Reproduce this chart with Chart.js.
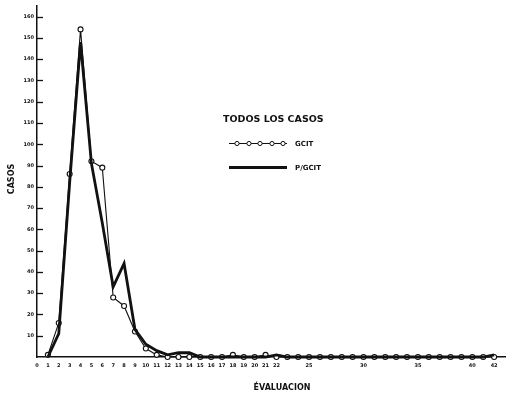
<!DOCTYPE html>
<html><head><meta charset="utf-8">
<script src="https://cdn.jsdelivr.net/npm/chart.js@4/dist/chart.umd.min.js"></script>
<style>html,body{margin:0;padding:0;background:#fff}#wrap{width:514px;height:395px}</style>
</head><body><div id="wrap"><canvas id="c" width="514" height="395"></canvas></div>
<script>
// ---- data ----
const evaluations = [1,2,3,4,5,6,7,8,9,10,11,12,13,14,15,16,17,18,19,20,21,22,23,24,25,26,27,28,29,30,31,32,33,34,35,36,37,38,39,40,41,42];
const gcit  = [1,16,86,154,92,89,28,24,12,4,1,0,0,0,0,0,0,1,0,0,1,0,0,0,0,0,0,0,0,0,0,0,0,0,0,0,0,0,0,0,0,0];
const pgcit = [0,11,82,148,91,63,33,44,13,6,3,1,2,2,0,0,0,0,0,0,0,1,0,0,0,0,0,0,0,0,0,0,0,0,0,0,0,0,0,0,0,1];
const xTickValues = [0,1,2,3,4,5,6,7,8,9,10,11,12,13,14,15,16,17,18,19,20,21,22,25,30,35,40,42];
const yTickValues = [10,20,30,40,50,60,70,80,90,100,110,120,130,140,150,160];
const seriesNames = ['GCIT','P/GCIT'];
const legendTitle = 'TODOS LOS CASOS';
const yTitle = 'CASOS';
const xTitle = 'ÉVALUACION';

const INK = '#111';
const FONT = '"DejaVu Sans", sans-serif';

const decorPlugin = {
  id: 'decor',
  afterDraw(chart) {
    const ctx = chart.ctx;
    const ys = chart.scales.y;
    const left = chart.chartArea.left;
    ctx.save();
    // inward y tick marks
    ctx.strokeStyle = INK; ctx.lineWidth = 1.3;
    ys.ticks.forEach(t => {
      const py = Math.round(ys.getPixelForValue(t.value)) + 0.5;
      ctx.beginPath(); ctx.moveTo(left, py); ctx.lineTo(left + 6, py); ctx.stroke();
    });
    // axis titles
    ctx.fillStyle = INK;
    ctx.font = 'bold 8px ' + FONT;
    ctx.textAlign = 'center'; ctx.textBaseline = 'middle';
    ctx.save();
    ctx.translate(12, 179); ctx.rotate(-Math.PI / 2);
    ctx.fillText(yTitle, 0, 0);
    ctx.restore();
    ctx.fillText(xTitle, 282, 388);
    // legend
    ctx.font = 'bold 9.5px ' + FONT;
    ctx.textAlign = 'left';
    ctx.fillText(legendTitle, 223, 120);
    ctx.font = 'bold 7px ' + FONT;
    ctx.fillText(seriesNames[0], 295, 144);
    ctx.fillText(seriesNames[1], 295, 168);
    // GCIT sample
    ctx.lineWidth = 1.1;
    ctx.beginPath(); ctx.moveTo(229, 143.5); ctx.lineTo(287, 143.5); ctx.stroke();
    [237, 249, 260, 272, 283].forEach(cx => {
      ctx.beginPath(); ctx.arc(cx, 143.5, 2.1, 0, Math.PI * 2);
      ctx.fillStyle = '#fff'; ctx.fill(); ctx.lineWidth = 1; ctx.stroke();
    });
    // P/GCIT sample
    ctx.lineWidth = 2.8;
    ctx.beginPath(); ctx.moveTo(229, 167.5); ctx.lineTo(287, 167.5); ctx.stroke();
    ctx.restore();
  }
};

new Chart(document.getElementById('c'), {
  type: 'line',
  data: {
    datasets: [
      {
        label: seriesNames[1],
        data: evaluations.map((e, i) => ({x: e, y: pgcit[i]})),
        borderColor: INK, borderWidth: 2.8, pointRadius: 0, tension: 0, fill: false, clip: false
      },
      {
        label: seriesNames[0],
        data: evaluations.map((e, i) => ({x: e, y: gcit[i]})),
        borderColor: INK, borderWidth: 1.1, tension: 0, fill: false, clip: false,
        pointRadius: 2.5, pointBorderWidth: 1.1, pointBackgroundColor: '#fff', pointBorderColor: INK
      }
    ]
  },
  options: {
    responsive: false, animation: false, devicePixelRatio: 1,
    layout: {padding: {top: 5, right: 9, left: 0, bottom: 0}},
    plugins: {legend: {display: false}, tooltip: {enabled: false}},
    scales: {
      x: {
        type: 'linear', min: 0, max: 43,
        afterBuildTicks: s => { s.ticks = xTickValues.map(v => ({value: v})); },
        afterFit: s => { s.height = 38; },
        grid: {display: false, drawTicks: false},
        border: {display: true, color: INK, width: 1.5},
        ticks: {autoSkip: false, maxRotation: 0, padding: 6, color: INK,
                font: {family: FONT, size: 5, weight: 'bold'}}
      },
      y: {
        min: 0, max: 165,
        afterBuildTicks: s => { s.ticks = yTickValues.map(v => ({value: v})); },
        afterFit: s => { s.width = 37; },
        grid: {display: false, drawTicks: false},
        border: {display: true, color: INK, width: 1.5},
        ticks: {padding: 3, color: INK, font: {family: FONT, size: 5, weight: 'bold'}}
      }
    }
  },
  plugins: [decorPlugin]
});
</script>
</body></html>
